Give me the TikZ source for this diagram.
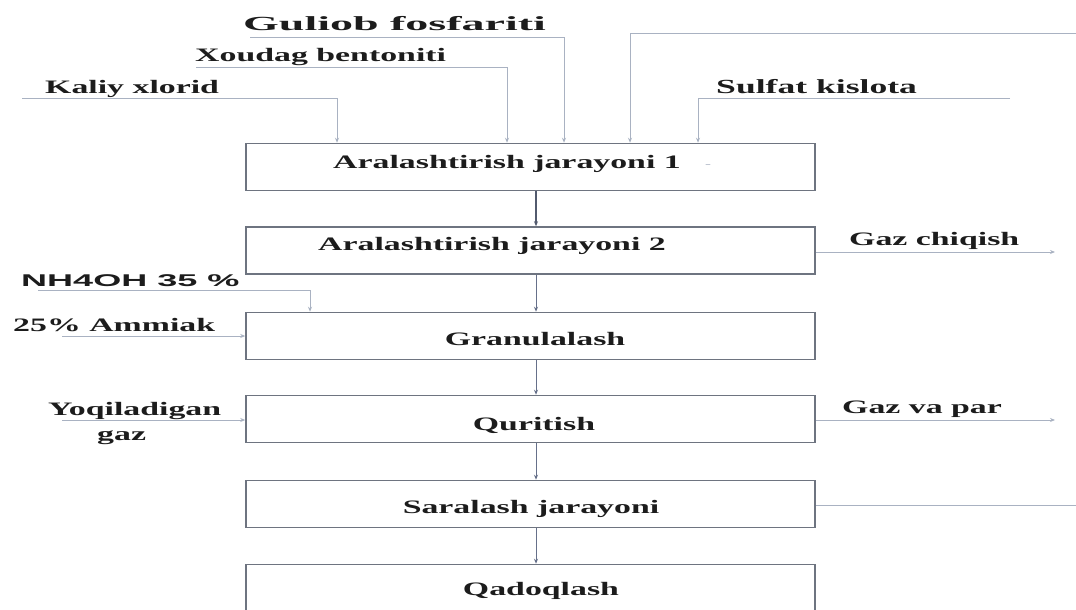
\documentclass[tikz,border=0pt]{standalone}
\usepackage{fontspec}
\setmainfont{Liberation Serif}[FakeStretch=1.78]
\newfontfamily\fosfont{Liberation Serif}[FakeStretch=2.3]
\newfontfamily\arialfont{Liberation Sans}[FakeStretch=2.12]
\usetikzlibrary{arrows.meta,positioning,calc}
\definecolor{edge}{HTML}{6E7480}
\definecolor{feed}{HTML}{A9B2C2}
\definecolor{flow}{HTML}{66708A}
\definecolor{ink}{HTML}{1C1C1C}
\tikzset{
  >={Stealth[length=5pt,width=4pt]},
  box/.style={draw=edge,line width=1.5pt,minimum width=569pt,minimum height=47pt,inner sep=0pt},
  lab/.style={font=\fontsize{19}{25}\selectfont\bfseries,text=ink,inner sep=0pt,anchor=base west},
  blab/.style={lab,anchor=base},
  farr/.style={->,draw=feed,line width=0.9pt},
  fline/.style={draw=feed,line width=0.9pt},
  marr/.style={->,draw=flow,line width=0.9pt},
}
\begin{document}
\begin{tikzpicture}[x=1pt,y=-1pt]
\useasboundingbox (0,0) rectangle (1076,610);
% process boxes
\node[box] (b1) at (530.5,167) {};
\node[box] (b2) at (530.5,250.5) {};
\node[box] (b3) at (530.5,336) {};
\node[box] (b4) at (530.5,419) {};
\node[box] (b5) at (530.5,504) {};
\node[box] (b6) at (530.5,588) {};
\node[blab] (t1) at (507,168) {Aralashtirish jarayoni 1};
\node[font=\fontsize{10}{10}\selectfont,text=feed,inner sep=0pt] (d1) at (708,166) {-};
\node[blab] (t2) at (492,250) {Aralashtirish jarayoni 2};
\node[blab] (t3) at (535,345) {Granulalash};
\node[blab] (t4) at (534,430) {Quritish};
\node[blab] (t5) at (531,513) {Saralash jarayoni};
\node[blab] (t6) at (541,595) {Qadoqlash};

% main flow
\coordinate (vx) at (536,0);
\draw[marr,line width=1.6pt,draw=flow!80!black] (b1.south -| vx) -- (b2.north -| vx);
\draw[marr] (b2.south -| vx) -- (b3.north -| vx);
\draw[marr] (b3.south -| vx) -- (b4.north -| vx);
\draw[marr] (b4.south -| vx) -- (b5.north -| vx);
\draw[marr] (b5.south -| vx) -- (b6.north -| vx);

% feeds into mixing 1
\node[lab] (kal) at (45,93) {Kaliy xlorid};
\node[lab] (ben) at (195,62) {Xoudag bentoniti};
\node[lab,font=\fosfont\fontsize{20}{24}\selectfont\bfseries] (fos) at (243,31) {Guliob fosfariti};
\node[lab,font=\fontsize{20}{25}\selectfont\bfseries] (sul) at (716,93) {Sulfat kislota};
\coordinate (kal0) at (22,98);   \coordinate (kald) at (337,0);
\coordinate (ben0) at (196,67);  \coordinate (bend) at (507,0);
\coordinate (fos0) at (250,37);  \coordinate (fosd) at (564,0);
\coordinate (ext0) at (1076,33); \coordinate (extd) at (630,0);
\coordinate (sul0) at (1010,98); \coordinate (suld) at (698,0);
\draw[farr] (kal0) -| (kald |- b1.north);
\draw[farr] (ben0) -| (bend |- b1.north);
\draw[farr] (fos0) -| (fosd |- b1.north);
\draw[farr] (ext0) -| (extd |- b1.north);
\draw[farr] (sul0) -| (suld |- b1.north);

% side streams
\node[lab,font=\arialfont\fontsize{17}{20}\selectfont\bfseries] (nh) at (21,286) {NH4OH 35 \%};
\node[lab] (amm) at (13,331) {25\% Ammiak};
\node[lab] (yoq) at (48,415) {Yoqiladigan};
\node[lab] (yoqb) at (97,440) {gaz};
\coordinate (nh0) at (38,290);  \coordinate (nhd) at (310,0);
\coordinate (amm0) at (62,336);
\coordinate (yoq0) at (62,420);
\draw[farr] (nh0) -| (nhd |- b3.north);
\draw[farr] (amm0) -- (amm0 -| b3.west);
\draw[farr] (yoq0) -- (yoq0 -| b4.west);

% outlets
\node[lab] (gch) at (849,245) {Gaz chiqish};
\node[lab] (gvp) at (842,413) {Gaz va par};
\coordinate (gch1) at (1055,252);
\coordinate (gvp1) at (1055,420);
\coordinate (sar1) at (1076,505);
\draw[farr] (gch1 -| b2.east) -- (gch1);
\draw[farr] (gvp1 -| b4.east) -- (gvp1);
\draw[fline] (sar1 -| b5.east) -- (sar1);
\end{tikzpicture}
\end{document}
